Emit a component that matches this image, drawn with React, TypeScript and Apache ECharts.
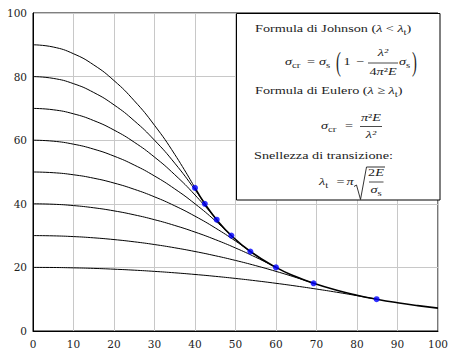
import React, { useEffect, useRef } from 'react';
import * as echarts from 'echarts';

// Johnson parabolas (slenderness λ, critical stress σcr), one per yield stress σs
const johnson90 = [[0, 90], [5, 89.3], [10, 87.19], [15, 83.67], [20, 78.75], [25, 72.42], [30, 64.69], [35, 55.55], [40, 45]];
const johnson80 = [[0, 80], [5, 79.44], [10, 77.78], [15, 75], [20, 71.11], [25, 66.11], [30, 60], [35, 52.78], [40, 44.44], [42.43, 40]];
const johnson70 = [[0, 70], [5, 69.57], [10, 68.3], [15, 66.17], [20, 63.19], [25, 59.37], [30, 54.69], [35, 49.16], [40, 42.78], [45.36, 35]];
const johnson60 = [[0, 60], [5, 59.69], [10, 58.75], [15, 57.19], [20, 55], [25, 52.19], [30, 48.75], [35, 44.69], [40, 40], [45, 34.69], [48.99, 30]];
const johnson50 = [[0, 50], [5, 49.78], [10, 49.13], [15, 48.05], [20, 46.53], [25, 44.57], [30, 42.19], [35, 39.37], [40, 36.11], [45, 32.42], [50, 28.3], [53.67, 25]];
const johnson40 = [[0, 40], [5, 39.86], [10, 39.44], [15, 38.75], [20, 37.78], [25, 36.53], [30, 35], [35, 33.19], [40, 31.11], [45, 28.75], [50, 26.11], [55, 23.19], [60, 20]];
const johnson30 = [[0, 30], [5, 29.92], [10, 29.69], [15, 29.3], [20, 28.75], [25, 28.05], [30, 27.19], [35, 26.17], [40, 25], [45, 23.67], [50, 22.19], [55, 20.55], [60, 18.75], [65, 16.8], [69.28, 15]];
const johnson20 = [[0, 20], [5, 19.97], [10, 19.86], [15, 19.69], [20, 19.44], [25, 19.13], [30, 18.75], [35, 18.3], [40, 17.78], [45, 17.19], [50, 16.53], [55, 15.8], [60, 15], [65, 14.13], [70, 13.19], [75, 12.19], [80, 11.11], [84.85, 10]];

// Euler hyperbola beyond the transition slenderness
const euler = [[40, 45], [42.43, 40], [45.36, 35], [48.99, 30], [53.67, 25], [60, 20], [65, 17.04], [69.28, 15], [75, 12.8], [80, 11.25], [84.85, 10], [90, 8.89], [95, 7.98], [100, 7.2]];

// Transition points (λt, σs/2)
const transitionPoints = [[40, 45], [42.43, 40], [45.36, 35], [48.99, 30], [53.67, 25], [60, 20], [69.28, 15], [84.85, 10]];

const johnsonCurves = [johnson90, johnson80, johnson70, johnson60, johnson50, johnson40, johnson30, johnson20];

const AXIS_FAMILY = 'DejaVu Serif';
const FAMILY = 'Liberation Serif';
const BASE = 11.2;
const SUB = 8.5;
const SX = 1.27; // horizontal stretch of the formula lettering
const INK = '#1c1c1c';

let measureCtx: CanvasRenderingContext2D | null = null;
function textWidth(t: string, size: number, italic = false): number {
  if (!measureCtx) measureCtx = document.createElement('canvas').getContext('2d');
  measureCtx!.font = `${italic ? 'italic ' : ''}${size}px "${FAMILY}"`;
  return measureCtx!.measureText(t).width * SX;
}

type TxtOpts = { size?: number; it?: boolean; align?: string; sy?: number };
function txt(t: string, x: number, y: number, o: TxtOpts = {}) {
  return {
    type: 'text',
    x,
    y,
    z: 20,
    scaleX: SX,
    scaleY: o.sy ?? 1,
    silent: true,
    style: {
      text: t,
      fontFamily: FAMILY,
      fontSize: o.size ?? BASE,
      fontStyle: o.it ? 'italic' : 'normal',
      fill: INK,
      align: o.align ?? 'left',
      verticalAlign: 'middle',
    },
  };
}

type Run = { t: string; it?: boolean; sub?: boolean };
function runLine(list: Run[], x: number, y: number, center = false) {
  const widths = list.map((r) => textWidth(r.t, r.sub ? SUB : BASE, !!r.it));
  const total = widths.reduce((a, b) => a + b, 0);
  let cx = center ? x - total / 2 : x;
  return list.map((r, i) => {
    const el = txt(r.t, cx, y + (r.sub ? 3.3 : 0), { size: r.sub ? SUB : BASE, it: r.it });
    cx += widths[i];
    return el;
  });
}

function hline(x1: number, x2: number, y: number, w = 0.8) {
  return { type: 'line', z: 20, silent: true, shape: { x1, y1: y, x2, y2: y }, style: { stroke: INK, lineWidth: w } };
}

function frac(num: Run[], den: Run[], cx: number, barY: number, x1: number, x2: number, up = 9.5, down = 8.5) {
  return [...runLine(num, cx, barY - up, true), ...runLine(den, cx, barY + down, true), hline(x1, x2, barY)];
}

function symSub(sym: string, sub: string, x: number, y: number) {
  return runLine([{ t: sym, it: true }, { t: sub, sub: true }], x, y);
}

function buildFormulaBox() {
  const els: any[] = [];
  els.push({
    type: 'rect',
    z: 10,
    silent: true,
    shape: { x: 236.5, y: 13.5, width: 203.5, height: 186.5 },
    style: { fill: '#fff', stroke: '#000', lineWidth: 1 },
  });

  // Johnson heading
  els.push(...runLine([{ t: 'Formula di Johnson (' }, { t: 'λ', it: true }, { t: ' < ' }, { t: 'λ', it: true }, { t: 't', sub: true }, { t: ')' }], 255, 28.5));

  // σcr = σs (1 − λ²/(4π²E) σs)
  const y1 = 62;
  els.push(...symSub('σ', 'cr', 285, y1));
  els.push(txt('=', 311, y1, { align: 'center' }));
  els.push(...symSub('σ', 's', 319, y1));
  els.push(txt('(', 338.5, y1 + 0.5, { align: 'center', size: 11.5, sy: 2.3 }));
  els.push(txt('1', 347, y1, { align: 'center' }));
  els.push(txt('−', 360, y1, { align: 'center' }));
  els.push(...frac([{ t: 'λ²', it: true }], [{ t: '4' }, { t: 'π', it: true }, { t: '²' }, { t: 'E', it: true }], 383, 63, 368, 398, 10, 8.5));
  els.push(...symSub('σ', 's', 399, y1));
  els.push(txt(')', 414.5, y1 + 0.5, { align: 'center', size: 11.5, sy: 2.3 }));

  // Euler heading
  els.push(...runLine([{ t: 'Formula di Eulero (' }, { t: 'λ', it: true }, { t: ' ≥ ' }, { t: 'λ', it: true }, { t: 't', sub: true }, { t: ')' }], 255, 90.5));

  // σcr = π²E / λ²
  const y2 = 126;
  els.push(...symSub('σ', 'cr', 321, y2));
  els.push(txt('=', 349, y2, { align: 'center' }));
  els.push(...frac([{ t: 'π', it: true }, { t: '²' }, { t: 'E', it: true }], [{ t: 'λ²', it: true }], 371, 126.5, 360, 382, 9, 8));

  // Transition slenderness
  els.push(...runLine([{ t: 'Snellezza di transizione:' }], 254, 155.5));

  const y3 = 182;
  els.push(...symSub('λ', 't', 319, y3));
  els.push(txt('=', 340.5, y3, { align: 'center' }));
  els.push(txt('π', 346.5, y3, { it: true }));
  els.push({
    type: 'polyline',
    z: 20,
    silent: true,
    shape: { points: [[354, 186.5], [356.5, 185], [360.5, 199.5], [366.5, 167], [385, 167]] },
    style: { stroke: INK, lineWidth: 0.9, fill: 'none' },
  });
  els.push(...frac([{ t: '2' }, { t: 'E', it: true }], [{ t: 'σ', it: true }, { t: 's', sub: true }], 376, 182, 369, 383.5, 9, 8));
  return els;
}

function buildOption() {
  const axisLabel = { fontFamily: AXIS_FAMILY, fontSize: 10.5, color: '#222', margin: 6 };
  const lineSeries = johnsonCurves.map((data) => ({
    type: 'line',
    data,
    smooth: true,
    symbol: 'none',
    silent: true,
    lineStyle: { color: '#000', width: 1 },
    z: 3,
  }));
  return {
    animation: false,
    grid: { left: 33, right: 11, top: 13, bottom: 15, show: true, borderColor: '#000', borderWidth: 1, backgroundColor: 'transparent' },
    xAxis: {
      type: 'value',
      min: 0,
      max: 100,
      interval: 10,
      axisLine: { show: true, lineStyle: { color: '#000', width: 1 } },
      axisTick: { show: false },
      splitLine: { show: true, lineStyle: { color: '#c8c8c8', width: 1 } },
      axisLabel: { ...axisLabel, margin: 7 },
    },
    yAxis: {
      type: 'value',
      min: 0,
      max: 100,
      interval: 20,
      axisLine: { show: true, lineStyle: { color: '#000', width: 1 } },
      axisTick: { show: false },
      splitLine: { show: true, lineStyle: { color: '#c8c8c8', width: 1 } },
      axisLabel,
    },
    series: [
      ...lineSeries,
      {
        type: 'line',
        data: euler,
        smooth: true,
        symbol: 'none',
        silent: true,
        lineStyle: { color: '#000', width: 1.6 },
        z: 4,
      },
      {
        type: 'scatter',
        data: transitionPoints,
        symbol: 'circle',
        symbolSize: 6,
        silent: true,
        itemStyle: { color: '#0000ff' },
        z: 5,
      },
    ],
    graphic: buildFormulaBox(),
  };
}

export default function App() {
  const ref = useRef<HTMLDivElement>(null);
  useEffect(() => {
    const chart = echarts.init(ref.current!, null, { renderer: 'svg' });
    chart.setOption(buildOption() as any);
    return () => chart.dispose();
  }, []);
  return (
    <div
      ref={ref}
      style={{ position: 'fixed', left: 0, top: 0, width: 451, height: 349, background: '#fff' }}
    />
  );
}
